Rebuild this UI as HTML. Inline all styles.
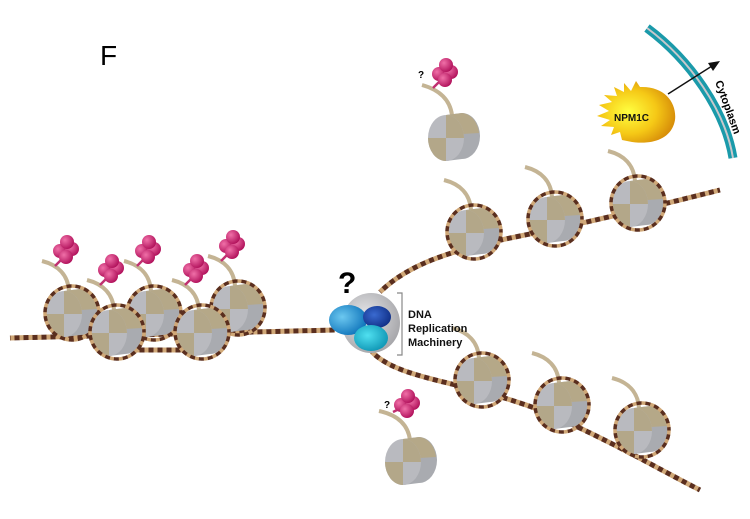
<!DOCTYPE html>
<html><head><meta charset="utf-8"><style>
html,body{margin:0;padding:0;background:#fff;width:750px;height:519px;overflow:hidden}
text{font-family:"Liberation Sans",Arial,sans-serif}
</style></head><body>
<svg width="750" height="519" viewBox="0 0 750 519" xmlns="http://www.w3.org/2000/svg">
<defs>
<radialGradient id="yg" cx="0.4" cy="0.5" r="0.6"><stop offset="0" stop-color="#ffff40"/><stop offset="0.6" stop-color="#f5c816"/><stop offset="1" stop-color="#d8900a"/></radialGradient>
<radialGradient id="bg1" cx="0.35" cy="0.4" r="0.7"><stop offset="0" stop-color="#6cc8f0"/><stop offset="1" stop-color="#0a70b8"/></radialGradient>
<radialGradient id="bg2" cx="0.4" cy="0.4" r="0.7"><stop offset="0" stop-color="#3a6ad0"/><stop offset="1" stop-color="#0c2a80"/></radialGradient>
<radialGradient id="bg3" cx="0.4" cy="0.4" r="0.7"><stop offset="0" stop-color="#50e0f0"/><stop offset="1" stop-color="#0a90b0"/></radialGradient>
<radialGradient id="gg" cx="0.4" cy="0.4" r="0.7"><stop offset="0" stop-color="#e8e8ea"/><stop offset="1" stop-color="#a0a0a4"/></radialGradient>
<radialGradient id="mg" cx="0.35" cy="0.35" r="0.7"><stop offset="0" stop-color="#f070a8"/><stop offset="1" stop-color="#b0105a"/></radialGradient>
<g id="ac">
 <circle cx="-6" cy="0" r="7" fill="url(#mg)"/><circle cx="6" cy="-2" r="7" fill="url(#mg)"/><circle cx="1" cy="-9" r="7" fill="url(#mg)"/><circle cx="0" cy="6" r="7" fill="url(#mg)"/>
</g>
<g id="body">
 <path d="M-8,-22 L8,-24 A18,23 0 0 1 8,22 L-8,24 Z" fill="#a9abb0"/>
 <path d="M-8,-22 L8,-24 A18,23 0 0 1 25,-4 L-8,-2 Z" fill="#b5a888"/>
 <ellipse cx="-8" cy="1" rx="18" ry="23" fill="#b9babf"/>
 <path d="M-8,1 L-8,-22 A18,23 0 0 1 10,1 Z" fill="#b3a789"/>
 <path d="M-8,1 L-26,1 A18,23 0 0 0 -8,24 Z" fill="#b3a789"/>
</g>
<g id="nuc">
 <path d="M-3,-22 C-4,-38 -14,-48 -30,-52" stroke="#c4b494" stroke-width="4" fill="none"/>
 <use href="#body"/>
 <ellipse cx="0" cy="0" rx="27" ry="27" fill="none" stroke="#d0a878" stroke-width="3.5" stroke-dasharray="5 4"/>
 <ellipse cx="0" cy="0" rx="27" ry="27" fill="none" stroke="#5a2e1e" stroke-width="3.5" stroke-dasharray="5 4" stroke-dashoffset="4.5"/>
</g>
<g id="nucA"><use href="#nuc"/><path d="M-17,-47 L-9,-55" stroke="#c03070" stroke-width="2.5"/><use href="#ac" x="-6" y="-62"/></g>
</defs>

<g fill="none" stroke-width="5">
 <path d="M10,338 L335,330" stroke="#d0a878" stroke-dasharray="5 4"/>
 <path d="M10,338 L335,330" stroke="#5a2e1e" stroke-dasharray="5 4" stroke-dashoffset="4.5"/>
 <path d="M117,350 L205,350" stroke="#d0a878" stroke-dasharray="5 4"/>
 <path d="M117,350 L205,350" stroke="#5a2e1e" stroke-dasharray="5 4" stroke-dashoffset="4.5"/>
 <path d="M380,292 C405,268 440,252 520,236 C600,220 660,205 720,190" stroke="#d0a878" stroke-dasharray="5 4"/>
 <path d="M380,292 C405,268 440,252 520,236 C600,220 660,205 720,190" stroke="#5a2e1e" stroke-dasharray="5 4" stroke-dashoffset="4.5"/>
 <path d="M372,352 C400,380 460,380 540,410 C610,440 660,470 700,490" stroke="#d0a878" stroke-dasharray="5 4"/>
 <path d="M372,352 C400,380 460,380 540,410 C610,440 660,470 700,490" stroke="#5a2e1e" stroke-dasharray="5 4" stroke-dashoffset="4.5"/>
</g>

<text x="100" y="65" font-size="28">F</text>

<use href="#nucA" x="72" y="313"/>
<use href="#nucA" x="154" y="313"/>
<use href="#nucA" x="238" y="308"/>
<use href="#nucA" x="117" y="332"/>
<use href="#nucA" x="202" y="332"/>

<use href="#nuc" x="474" y="232"/>
<use href="#nuc" x="555" y="219"/>
<use href="#nuc" x="638" y="203"/>
<use href="#nuc" x="482" y="380"/>
<use href="#nuc" x="562" y="405"/>
<use href="#nuc" x="642" y="430"/>

<path d="M452,115 C450,100 440,90 422,85" stroke="#c4b494" stroke-width="4" fill="none"/>
<use href="#body" x="454" y="137"/>
<path d="M433,88 L441,80" stroke="#c03070" stroke-width="2.5"/><use href="#ac" x="445" y="74"/>
<text x="418" y="78" font-size="10" font-weight="bold">?</text>

<path d="M410,440 C408,425 398,415 379,411" stroke="#c4b494" stroke-width="4" fill="none"/>
<use href="#body" x="411" y="461"/>
<path d="M393,412 L401,408" stroke="#c03070" stroke-width="2.5"/><use href="#ac" x="407" y="405"/>
<text x="384" y="408" font-size="10" font-weight="bold">?</text>

<ellipse cx="371" cy="323" rx="29" ry="30" fill="url(#gg)"/>
<ellipse cx="348" cy="320" rx="19" ry="15" fill="url(#bg1)"/>
<ellipse cx="377" cy="317" rx="14" ry="11" fill="url(#bg2)"/>
<ellipse cx="371" cy="338" rx="17" ry="13" fill="url(#bg3)"/>
<text x="338" y="293" font-size="30" font-weight="bold">?</text>
<path d="M397,293 L402,293 L402,355 L397,355" stroke="#888" stroke-width="1.2" fill="none"/>
<text font-size="11" font-weight="bold" fill="#111"><tspan x="408" y="318">DNA</tspan><tspan x="408" y="332">Replication</tspan><tspan x="408" y="346">Machinery</tspan></text>

<path d="M647,28 C690,60 725,110 733,158" stroke="#1a9aaa" stroke-width="9" fill="none"/>
<path d="M647,28 C690,60 725,110 733,158" stroke="#c8c8cc" stroke-width="2" fill="none"/>
<line x1="668" y1="94" x2="712" y2="66" stroke="#111" stroke-width="1.4"/>
<path d="M720,61 L708,63 L713,71 Z" fill="#111"/>
<text transform="translate(715,82) rotate(70)" font-size="11" font-weight="bold">Cytoplasm</text>

<path d="M640,87 C665,86 677,103 675,120 C672,138 654,145 632,142 L622,140 L620,132 L611,135 L614,127 L601,126 L610,120 L597,116 L609,111 L599,105 L612,102 L604,95 L617,96 L614,87 L624,92 L624,83 L631,91 L636,81 Z" fill="url(#yg)"/>
<text x="614" y="121" font-size="10" font-weight="bold" fill="#111">NPM1C</text>
</svg>
</body></html>
